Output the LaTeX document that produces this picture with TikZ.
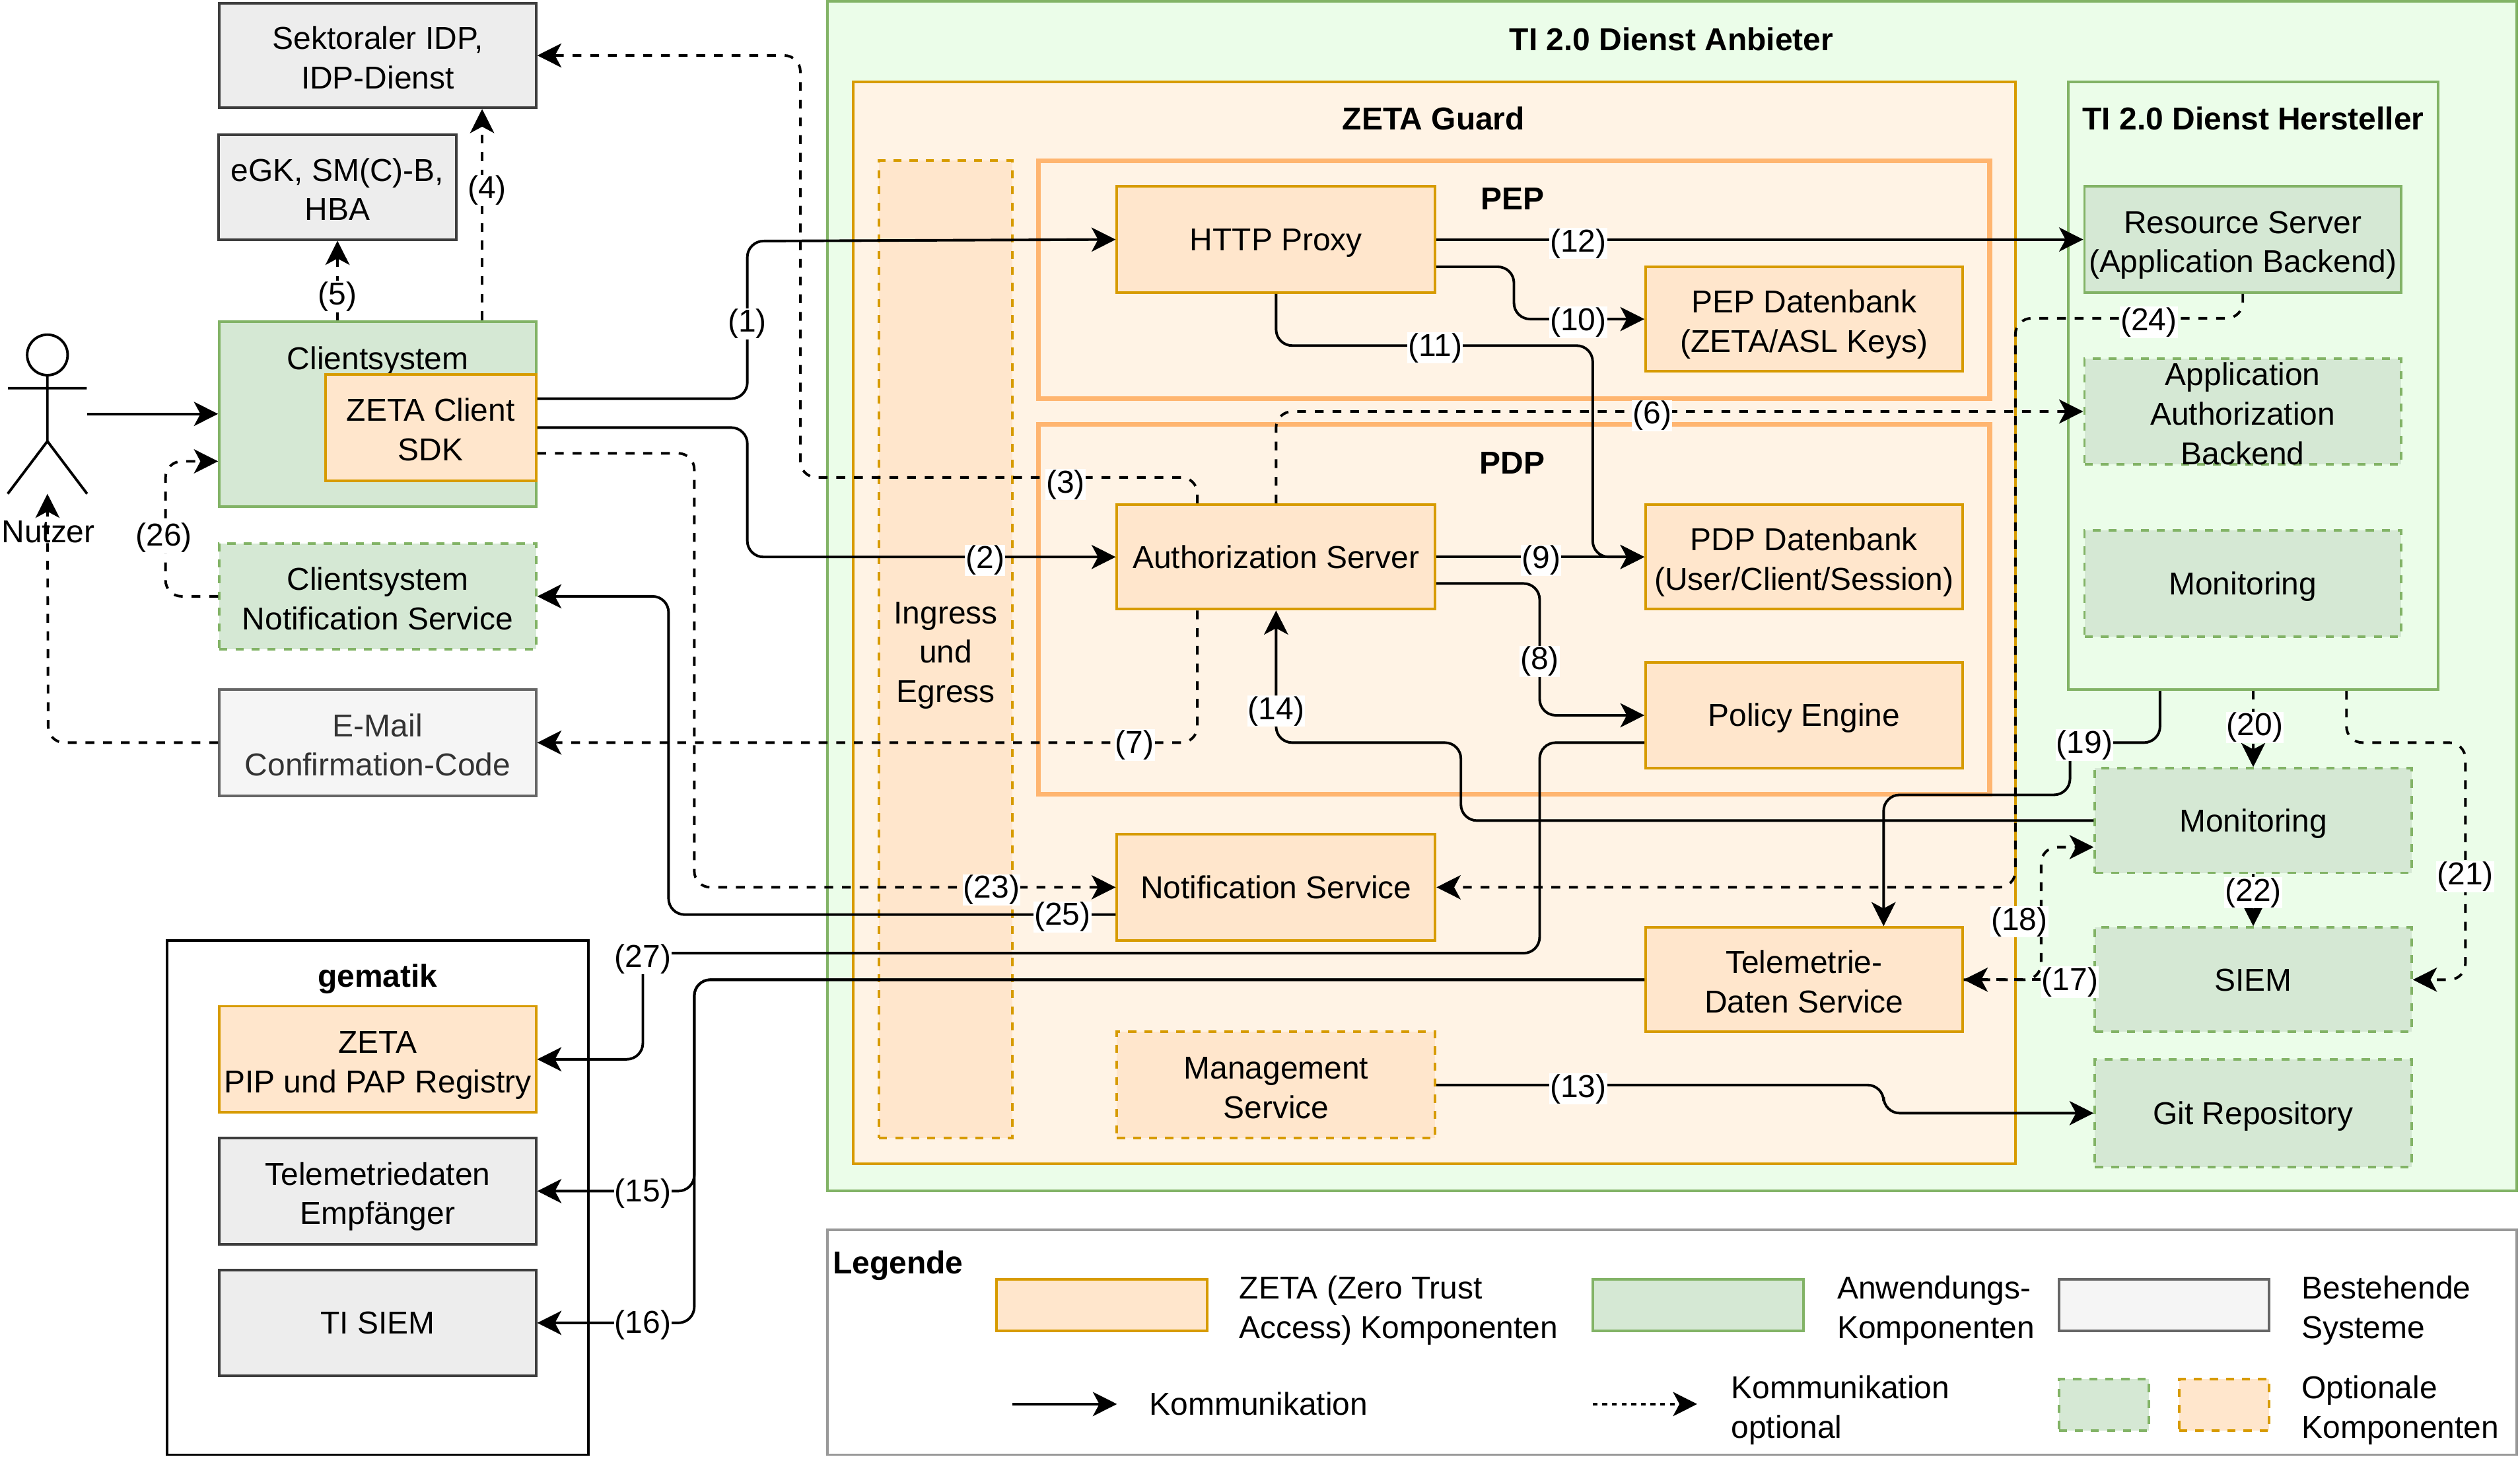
\documentclass[tikz,border=0pt]{standalone}
\usepackage{fontspec}
\setmainfont{Liberation Sans}
\usetikzlibrary{arrows.meta}
\definecolor{orangestroke}{HTML}{D79B00}
\definecolor{orangefill}{HTML}{FFE6CC}
\definecolor{orangepale}{HTML}{FFF3E5}
\definecolor{orangeframe}{HTML}{FFB570}
\definecolor{greenstroke}{HTML}{82B366}
\definecolor{greenfill}{HTML}{D5E8D4}
\definecolor{greenpale}{HTML}{EBFDE9}
\newcommand{\linestrut}{\rule[-4.2pt]{0pt}{22.2pt}}
\newcommand{\firststrut}{\rule{0pt}{21pt}}
\tikzset{
	basebox/.style={rectangle,draw,line width=1.6pt,align=center,inner sep=0pt,font=\fontsize{19.7}{24.5}\selectfont,execute at end node=\linestrut},
	zeta/.style={basebox,draw=orangestroke,fill=orangefill},
	anw/.style={basebox,draw=greenstroke,fill=greenfill},
	optbox/.style={dash pattern=on 5pt off 5pt},
	greybox/.style={basebox,draw=black!76,fill=black!7},
	oldbox/.style={basebox,draw=black!60,fill=black!4,text=black!80},
	frametitle/.style={font=\fontsize{19.7}{24.5}\selectfont\bfseries,inner sep=0pt},
	plain/.style={font=\fontsize{19.7}{24.5}\selectfont,align=left,inner sep=0pt,anchor=west,execute at end node=\linestrut},
	lbl/.style={fill=white,inner sep=0.5pt,yshift=-1.5pt,font=\fontsize{19.7}{24.5}\selectfont},
	flow/.style={draw,line width=1.6pt,rounded corners=10pt,-{Stealth[length=15pt,width=15pt,inset=4pt]}},
	optflow/.style={flow,dash pattern=on 5.5pt off 5.5pt}
}
\begin{document}
\begin{tikzpicture}[x=1pt,y=-1pt]
	\useasboundingbox (0,0) rectangle (1568,907.3);
	\node[anw,fill=greenpale,minimum width=1051,minimum height=740] (anbieter) at (1040.5,371) {};
	\node[zeta,fill=orangepale,minimum width=723,minimum height=673] (guard) at (892.5,387.5) {};
	\node[zeta,optbox,minimum width=83,minimum height=608] (ingress) at (588.5,404) {\firststrut Ingress\\und\\Egress};
	\node[basebox,draw=orangeframe,line width=3pt,minimum width=592,minimum height=148] (pep) at (942,174) {};
	\node[basebox,draw=orangeframe,line width=3pt,minimum width=592,minimum height=230] (pdp) at (942,379) {};
	\node[anw,fill=greenpale,minimum width=230,minimum height=378] (hersteller) at (1402,240) {};
	\node[anw,minimum width=197,minimum height=115] (clientsystem) at (235,257.5) {};
	\node[basebox,fill=white,draw=black,minimum width=262,minimum height=320] (gematik) at (235,745) {};
	\node[basebox,draw=black!40,fill=white,minimum width=1051,minimum height=140] (legende) at (1040.5,835) {};

	\node[frametitle] (anbietertitle) at (1040,24.5) {TI 2.0 Dienst Anbieter};
	\node[frametitle] (guardtitle) at (892,73.5) {ZETA Guard};
	\node[frametitle] (peptitle) at (941,123.5) {PEP};
	\node[frametitle] (pdptitle) at (941,288) {PDP};
	\node[frametitle] (herstellertitle) at (1402,73.5) {TI 2.0 Dienst Hersteller};
	\node[frametitle] (gematiktitle) at (235,609) {gematik};
	\node[plain] (clientsystemtitle) at (178.5,223) {Clientsystem};

	\node[zeta,minimum width=198,minimum height=66] (httpproxy) at (794,149) {HTTP Proxy};
	\node[zeta,minimum width=197,minimum height=65] (pepdb) at (1122.5,198.5) {\firststrut PEP Datenbank\\(ZETA/ASL Keys)};
	\node[zeta,minimum width=198,minimum height=65] (authserver) at (794,346.5) {Authorization Server};
	\node[zeta,minimum width=197,minimum height=65] (pdpdb) at (1122.5,346.5) {\firststrut PDP Datenbank\\(User/Client/Session)};
	\node[zeta,minimum width=197,minimum height=66] (policy) at (1122.5,445) {Policy Engine};
	\node[zeta,minimum width=198,minimum height=66] (notification) at (794,552) {Notification Service};
	\node[zeta,minimum width=197,minimum height=65] (telemetrie) at (1122.5,609.5) {\firststrut Telemetrie-\\Daten Service};
	\node[zeta,optbox,minimum width=198,minimum height=66] (management) at (794,675) {\firststrut Management\\Service};

	\node[anw,minimum width=197,minimum height=66] (resource) at (1395.5,149) {\firststrut Resource Server\\(Application Backend)};
	\node[anw,optbox,minimum width=197,minimum height=66] (appbackend) at (1395.5,256) {};
	\node[basebox,draw=none] (appbackendtext) at (1395.5,256) {\firststrut Application\\Authorization\\Backend};
	\node[anw,optbox,minimum width=197,minimum height=66] (monitoringa) at (1395.5,363) {Monitoring};
	\node[anw,optbox,minimum width=197,minimum height=65] (monitoringb) at (1402,510.5) {Monitoring};
	\node[anw,optbox,minimum width=197,minimum height=65] (siem) at (1402,609.5) {SIEM};
	\node[anw,optbox,minimum width=197,minimum height=67] (git) at (1402,692.5) {Git Repository};

	\node[greybox,minimum width=197,minimum height=65] (sektoral) at (235,34.5) {\firststrut Sektoraler IDP,\\IDP-Dienst};
	\node[greybox,minimum width=148,minimum height=65] (egk) at (210,116.5) {\firststrut eGK, SM(C)-B,\\HBA};
	\node[zeta,minimum width=131,minimum height=66] (sdk) at (268,266) {\firststrut ZETA Client\\SDK};
	\node[anw,optbox,minimum width=197,minimum height=66] (clientnotif) at (235,371) {\firststrut Clientsystem\\Notification Service};
	\node[oldbox,minimum width=197,minimum height=66] (email) at (235,462) {\firststrut E-Mail\\Confirmation-Code};
	\node[zeta,minimum width=197,minimum height=66] (pip) at (235,659) {\firststrut ZETA\\PIP und PAP Registry};
	\node[greybox,minimum width=197,minimum height=66] (telempf) at (235,741) {\firststrut Telemetriedaten\\Empfänger};
	\node[greybox,minimum width=197,minimum height=66] (tisiem) at (235,823) {TI SIEM};

	\node[minimum width=49,minimum height=99,inner sep=0pt] (nutzer) at (29.5,257.5) {};
	\draw[line width=1.6pt] (29.5,220.8) circle (12.6);
	\draw[line width=1.6pt] (29.5,233.4) -- (29.5,274.5) (nutzer.south west) -- (29.5,274.5) -- (nutzer.south east) (5,241.5) -- (54,241.5);
	\node[font=\fontsize{19.7}{24.5}\selectfont,inner sep=0pt] (nutzertext) at (30,331) {Nutzer};

	\draw[flow] (nutzer.east) -- (clientsystem.west);
	\draw[flow] ([yshift=18]sdk.east) -- (465,248) -- (465,150) -- (httpproxy.west);
	\draw[flow] (sdk.east) -- (465,266) -- (465,346.5) -- (authserver.west);
	\draw[optflow] ([xshift=-49]authserver.north) -- (745,297) -- (498,297) -- (498,34.5) -- (sektoral.east);
	\draw[optflow] ([xshift=65]clientsystem.north) -- ([xshift=65]sektoral.south);
	\draw[optflow] ([xshift=-25]clientsystem.north) -- (egk.south);
	\draw[optflow] (authserver.north) |- (appbackend.west);
	\draw[optflow] ([xshift=-49]authserver.south) |- (email.east);
	\draw[flow] ([yshift=-16.5]authserver.east) -- (958,363) -- (958,445) -- (policy.west);
	\draw[flow] (authserver.east) -- (pdpdb.west);
	\draw[flow] ([yshift=-17]httpproxy.east) -- (942,166) -- (942,198.5) -- (pepdb.west);
	\draw[flow] (httpproxy.south) -- (794,215) -- (991,215) -- (991,346.5) -- (pdpdb.west);
	\draw[flow] (httpproxy.east) -- (resource.west);
	\draw[flow] (management.east) -- (1172,675) -- (1172,692.5) -- (git.west);
	\draw[flow] (monitoringb.west) -- (909,510.5) -- (909,462) -- (794,462) -- (authserver.south);
	\draw[flow] (telemetrie.west) -- (432,609.5) -- (432,741) -- (telempf.east);
	\draw[flow] (telemetrie.west) -- (432,609.5) -- (432,823) -- (tisiem.east);
	\draw[optflow] (siem.west) -- (telemetrie.east);
	\draw[optflow] (telemetrie.east) -- (1270,609.5) -- (1270,527) -- ([yshift=-16.5]monitoringb.west);
	\draw[flow] ([xshift=-58]hersteller.south) -- (1344,462) -- (1288,462) -- (1288,494.5) -- (1172,494.5) -- ([xshift=49.5]telemetrie.north);
	\draw[optflow] (hersteller.south) -- (monitoringb.north);
	\draw[optflow] ([xshift=58]hersteller.south) -- (1460,462) -- (1534,462) -- (1534,609.5) -- (siem.east);
	\draw[optflow] (monitoringb.south) -- (siem.north);
	\draw[optflow] ([yshift=-16]sdk.east) -- (432,282) -- (432,552) -- (notification.west);
	\draw[optflow] (resource.south) -- (1395.5,198) -- (1254,198) -- (1254,552) -- (notification.east);
	\draw[flow] ([yshift=-17]notification.west) -- (416,569) -- (416,371) -- (clientnotif.east);
	\draw[optflow] (clientnotif.west) -- (103,371) -- (103,287) -- ([yshift=-29.5]clientsystem.west);
	\draw[flow] ([yshift=-17]policy.west) -- (958,462) -- (958,593) -- (400,593) -- (400,659) -- (pip.east);
	\draw[optflow] (email.west) -- (30,462) -- (nutzer.south);

	\node[lbl] (l1) at (465,200) {(1)};
	\node[lbl] (l2) at (613,347) {(2)};
	\node[lbl] (l3) at (663,300) {(3)};
	\node[lbl] (l4) at (303,117) {(4)};
	\node[lbl] (l5) at (210,183) {(5)};
	\node[lbl] (l6) at (1028,257) {(6)};
	\node[lbl] (l7) at (706,462) {(7)};
	\node[lbl] (l8) at (958,410) {(8)};
	\node[lbl] (l9) at (959,347) {(9)};
	\node[lbl] (l10) at (982,199) {(10)};
	\node[lbl] (l11) at (893,215) {(11)};
	\node[lbl] (l12) at (982,150) {(12)};
	\node[lbl] (l13) at (982,676) {(13)};
	\node[lbl] (l14) at (794,441) {(14)};
	\node[lbl] (l15) at (400,741) {(15)};
	\node[lbl] (l16) at (400,823) {(16)};
	\node[lbl] (l17) at (1288,609.5) {(17)};
	\node[lbl] (l18) at (1256.5,572) {(18)};
	\node[lbl] (l19) at (1297,462) {(19)};
	\node[lbl] (l20) at (1403,451) {(20)};
	\node[lbl] (l21) at (1534,544) {(21)};
	\node[lbl] (l22) at (1402,554) {(22)};
	\node[lbl] (l23) at (617,552) {(23)};
	\node[lbl] (l24) at (1337,199) {(24)};
	\node[lbl] (l25) at (661,569) {(25)};
	\node[lbl] (l26) at (102,333) {(26)};
	\node[lbl] (l27) at (400,595) {(27)};

	\node[frametitle,anchor=west] (legendetitle) at (518,787.5) {Legende};
	\node[zeta,minimum width=131,minimum height=32] (legzeta) at (685.5,812) {};
	\node[plain] (legzetatext) at (771,812) {\firststrut ZETA (Zero Trust\\Access) Komponenten};
	\node[anw,minimum width=131,minimum height=32] (leganw) at (1056.5,812) {};
	\node[plain] (leganwtext) at (1143,812) {\firststrut Anwendungs-\\Komponenten};
	\node[oldbox,minimum width=131,minimum height=32] (legold) at (1346.5,812) {};
	\node[plain] (legoldtext) at (1432,812) {\firststrut Bestehende\\Systeme};
	\coordinate (legflowa) at (630,873.5);
	\coordinate (legflowb) at (991,873.5);
	\node[plain] (legflowtext) at (715,873.5) {Kommunikation};
	\draw[flow] (legflowa) -- ++(65,0);
	\node[plain] (legopttext) at (1077,874) {\firststrut Kommunikation\\optional};
	\draw[optflow,dash pattern=on 3pt off 3pt] (legflowb) -- ++(65,0);
	\node[anw,optbox,minimum width=56,minimum height=32] (legoptgreen) at (1309,874) {};
	\node[zeta,optbox,minimum width=56,minimum height=32] (legoptorange) at (1384,874) {};
	\node[plain] (legoptboxtext) at (1432,874) {\firststrut Optionale\\Komponenten};
\end{tikzpicture}
\end{document}
